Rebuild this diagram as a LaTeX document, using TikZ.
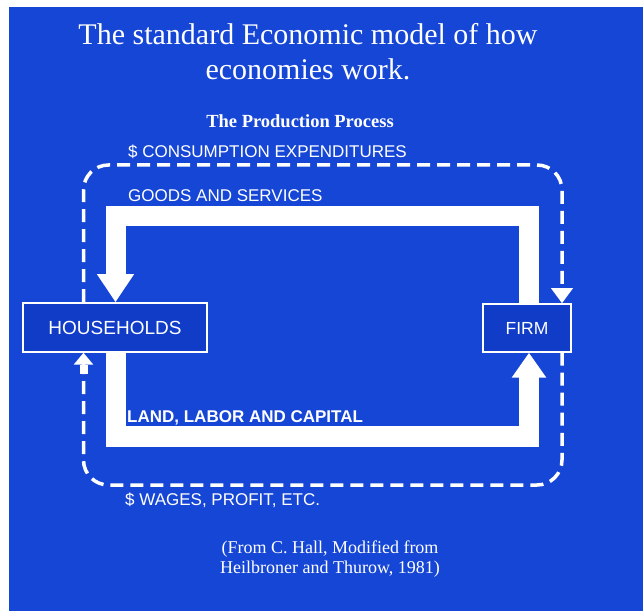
\documentclass[tikz,border=0pt]{standalone}
\usepackage{fontspec}
\setmainfont{Liberation Serif}
\setsansfont{Liberation Sans}
\usetikzlibrary{arrows.meta}
\definecolor{slide}{RGB}{22,70,214}
\definecolor{boxblue}{RGB}{16,60,200}
\begin{document}
\begin{tikzpicture}[x=1pt,y=-1pt,
  box/.style={draw=white, line width=1.5pt, fill=boxblue, text=white, inner sep=0pt},
  lab/.style={text=white, font=\sffamily\fontsize{17}{20}\selectfont, anchor=base west, inner sep=0pt},
  ttl/.style={text=white, font=\fontsize{30}{34}\selectfont, anchor=base, inner sep=0pt},
  capt/.style={text=white, font=\fontsize{18}{20}\selectfont, anchor=base, inner sep=0pt},
  band/.style={draw=white, line width=20pt, line join=miter, line cap=butt},
  dashline/.style={draw=white, line width=3.5pt, dash pattern=on 13pt off 7pt, rounded corners=25pt}]
\useasboundingbox (0,0) rectangle (643,612);
\fill[white] (0,0) rectangle (643,612);
\fill[slide] (9,7) rectangle (643,611);
% titles
\node[ttl] (t1) at (308,45) {The standard Economic model of how};
\node[ttl] (t2) at (308,80) {economies work.};
\node[text=white, font=\bfseries\fontsize{18.5}{20}\selectfont, anchor=base, inner sep=0pt] (pp) at (300,128) {The Production Process};
% boxes
\node[box, font=\sffamily\fontsize{19}{20}\selectfont, minimum width=184pt, minimum height=49pt] (hh) at (115,327.5) {HOUSEHOLDS};
\node[box, font=\sffamily\fontsize{17.5}{20}\selectfont, minimum width=88pt, minimum height=48pt] (fm) at (527,328) {FIRM};
% goods band
\coordinate (gtl) at (115.5,216.5);
\coordinate (gtr) at (529,216.5);
\draw[band, -{Triangle[width=35pt,length=28pt]}] (gtr |- fm.north) -- (gtr) -- (gtl) -- (gtl |- hh.north);
% factor band
\coordinate (lbl) at (115.5,436.5);
\coordinate (lbr) at (529,436.5);
\draw[band, -{Triangle[width=33pt,length=25pt]}] (lbl |- hh.south) -- (lbl) -- (lbr) -- (lbr |- fm.south);
% money flows
\coordinate (dtl) at (83.5,165);
\coordinate (dtr) at (562,165);
\draw[dashline, -{Triangle[width=21pt,length=15pt]}] (dtl |- hh.north) -- (dtl) -- (dtr) -- (dtr |- fm.north);
\coordinate (dbl) at (83.5,485);
\coordinate (dbr) at (562,485);
\draw[dashline, -{Rectangle[width=8pt,length=9pt,sep=0pt]Triangle[width=19pt,length=12pt]}] (dbr |- fm.south) -- (dbr) -- (dbl) -- (dbl |- hh.south);
% labels
\node[lab] (l1) at (128,158) {\$ CONSUMPTION EXPENDITURES};
\node[lab] (l2) at (128,202) {GOODS AND SERVICES};
\node[lab, font=\sffamily\bfseries\fontsize{17}{20}\selectfont] (l3) at (127,422) {LAND, LABOR AND CAPITAL};
\node[lab] (l4) at (125,505) {\$ WAGES, PROFIT, ETC.};
% caption
\node[capt] (c1) at (330,553) {(From C. Hall, Modified from};
\node[capt] (c2) at (330,573) {Heilbroner and Thurow, 1981)};
\end{tikzpicture}
\end{document}
